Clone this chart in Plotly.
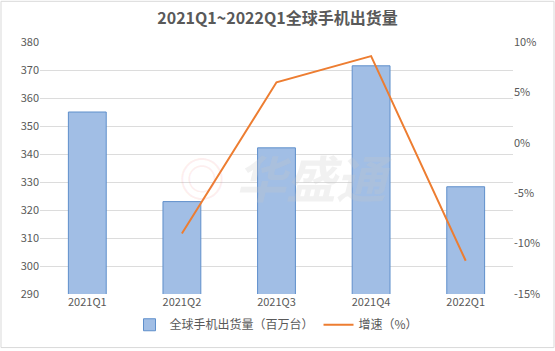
import plotly.graph_objects as go

categories = ["2021Q1", "2021Q2", "2021Q3", "2021Q4", "2022Q1"]
shipments = [355, 323, 342.2, 371.5, 328.3]
growth = [None, -9.0, 6.0, 8.6, -11.7]
left_ticks = [290, 300, 310, 320, 330, 340, 350, 360, 370, 380]
right_ticks = [-15, -10, -5, 0, 5, 10]
right_tick_labels = ["-15%", "-10%", "-5%", "0%", "5%", "10%"]

W, H = 555, 351
ml, mr, mt, mb = 40, 42, 42, 55
pw, ph = W - ml - mr, H - mt - mb

font = "Noto Sans CJK SC, Microsoft YaHei, sans-serif"
gray = "#595959"

fig = go.Figure()
fig.add_trace(go.Bar(
    x=categories, y=shipments, name="全球手机出货量（百万台）",
    marker=dict(color="#a1bee5", line=dict(color="#5f8fcb", width=1)),
    width=0.4, yaxis="y",
))
fig.add_trace(go.Scatter(
    x=categories, y=growth, name="增速（%）", mode="lines",
    line=dict(color="#ed7d31", width=2), yaxis="y2",
))

fig.update_layout(
    width=W, height=H,
    margin=dict(l=ml, r=mr, t=mt, b=mb),
    paper_bgcolor="white", plot_bgcolor="white",
    font=dict(family=font, color=gray, size=11),
    title=dict(text="<b>2021Q1~2022Q1全球手机出货量</b>", x=0.5, xanchor="center",
               y=1 - 18 / H, yanchor="middle",
               font=dict(size=16, color="#595959", family=font)),
    xaxis=dict(showgrid=False, showline=False, ticks="", tickfont=dict(size=11, color=gray)),
    yaxis=dict(range=[290, 380], tickvals=left_ticks, showgrid=True, gridcolor="#dcdcdc",
               gridwidth=1, zeroline=False, showline=False, tickfont=dict(size=11, color=gray)),
    yaxis2=dict(range=[-15, 10], tickvals=right_ticks, ticktext=right_tick_labels, overlaying="y",
                side="right", showgrid=False, zeroline=False, showline=False,
                tickfont=dict(size=11, color=gray)),
    legend=dict(orientation="h", x=0.5, xanchor="center", y=-(327 - (H - mb)) / ph,
                yanchor="middle", font=dict(size=12, color=gray), bgcolor="rgba(0,0,0,0)"),
    bargap=0.6,
    showlegend=True,
)

# watermark
fig.add_annotation(text="<b><i>华盛通</i></b>", xref="paper", yref="paper", x=0.58, y=0.47,
                   showarrow=False, font=dict(size=50, color="rgba(200,200,200,0.25)", family=font))
fig.add_annotation(text="<b>◎</b>", xref="paper", yref="paper", x=0.29, y=0.47,
                   showarrow=False, font=dict(size=46, color="rgba(240,120,120,0.12)", family=font))

# outer border
fig.add_shape(type="rect", xref="paper", yref="paper",
              x0=-(ml - 1) / pw, x1=1 + (mr - 1) / pw,
              y0=-(mb - 1) / ph, y1=1 + (mt - 1) / ph,
              line=dict(color="#d9d9d9", width=1), layer="below")

fig.write_html("out.html")
